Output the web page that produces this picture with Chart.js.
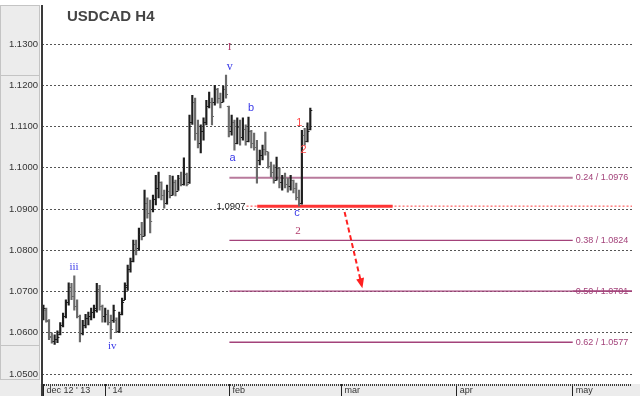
<!DOCTYPE html>
<html>
<head>
<meta charset="utf-8">
<script src="https://cdn.jsdelivr.net/npm/chart.js@4.4.1/dist/chart.umd.min.js"></script>
<style>
  html, body { margin: 0; padding: 0; background: #fff; }
</style>
</head>
<body>
<canvas id="chart" width="640" height="396"></canvas>
<script>
// USDCAD H4 bars, one entry per bar
const opens  = [1.0640,1.0655,1.0628,1.0592,1.0580,1.0585,1.0598,1.0620,1.0640,1.0675,1.0710,1.0690,1.0665,1.0640,1.0600,1.0620,1.0635,1.0640,1.0650,1.0655,1.0705,1.0665,1.0640,1.0645,1.0625,1.0630,1.0630,1.0605,1.0645,1.0680,1.0710,1.0755,1.0775,1.0815,1.0805,1.0840,1.0835,1.0915,1.0890,1.0900,1.0925,1.0950,1.0965,1.0935,1.0915,1.0945,1.0935,1.0965,1.0945,1.0975,1.0960,1.0985,1.0965,1.1110,1.1160,1.1085,1.1060,1.1090,1.1110,1.1150,1.1160,1.1160,1.1190,1.1170,1.1160,1.1190,1.1150,1.1090,1.1110,1.1060,1.1100,1.1075,1.1095,1.1065,1.1090,1.1060,1.1050,1.1020,1.1030,1.1045,1.1040,1.1005,1.0990,1.0970,1.1000,1.0965,1.0975,1.0960,1.0955,1.0970,1.0950,1.0930,1.0915,1.1080,1.1065,1.1095];
const highs  = [1.0667,1.0660,1.0632,1.0600,1.0595,1.0605,1.0625,1.0648,1.0680,1.0721,1.0720,1.0738,1.0680,1.0643,1.0630,1.0645,1.0650,1.0660,1.0667,1.0720,1.0715,1.0667,1.0660,1.0655,1.0643,1.0667,1.0636,1.0650,1.0684,1.0721,1.0764,1.0781,1.0825,1.0825,1.0854,1.0868,1.0946,1.0927,1.0922,1.0934,1.0982,1.0990,1.0966,1.0946,1.0958,1.0982,1.0980,1.0970,1.0982,1.0990,1.1024,1.0987,1.1128,1.1176,1.1169,1.1116,1.1104,1.1121,1.1164,1.1184,1.1169,1.1200,1.1193,1.1181,1.1198,1.1225,1.1150,1.1128,1.1116,1.1121,1.1116,1.1121,1.1104,1.1123,1.1091,1.1084,1.1067,1.1043,1.1055,1.1087,1.1038,1.1014,1.1007,1.1026,1.1000,1.0982,1.0987,1.0975,1.0982,1.0970,1.0963,1.0946,1.1091,1.1096,1.1109,1.1145];
const lows   = [1.0631,1.0626,1.0583,1.0575,1.0572,1.0576,1.0595,1.0614,1.0636,1.0667,1.0680,1.0655,1.0636,1.0578,1.0595,1.0612,1.0619,1.0631,1.0636,1.0650,1.0655,1.0626,1.0626,1.0619,1.0585,1.0625,1.0600,1.0600,1.0643,1.0680,1.0703,1.0747,1.0772,1.0789,1.0800,1.0825,1.0835,1.0878,1.0842,1.0893,1.0910,1.0927,1.0922,1.0902,1.0912,1.0927,1.0934,1.0932,1.0945,1.0956,1.0958,1.0956,1.0962,1.1105,1.1067,1.1048,1.1036,1.1067,1.1104,1.1145,1.1104,1.1152,1.1157,1.1145,1.1160,1.1169,1.1075,1.1079,1.1043,1.1058,1.1055,1.1067,1.1055,1.1063,1.1048,1.1043,1.0963,1.1007,1.1019,1.1031,1.0999,1.0978,1.0963,1.0970,1.0951,1.0946,1.0951,1.0941,1.0946,1.0939,1.0922,1.0907,1.0912,1.1055,1.1063,1.1092];
const closes = [1.0660,1.0632,1.0590,1.0580,1.0585,1.0590,1.0620,1.0640,1.0675,1.0710,1.0690,1.0665,1.0640,1.0600,1.0620,1.0635,1.0640,1.0650,1.0660,1.0705,1.0665,1.0640,1.0645,1.0625,1.0610,1.0655,1.0605,1.0645,1.0675,1.0715,1.0755,1.0775,1.0815,1.0800,1.0840,1.0835,1.0915,1.0890,1.0870,1.0925,1.0950,1.0965,1.0935,1.0915,1.0945,1.0935,1.0965,1.0945,1.0975,1.0960,1.0985,1.0962,1.1110,1.1160,1.1085,1.1060,1.1090,1.1110,1.1150,1.1160,1.1125,1.1190,1.1170,1.1160,1.1190,1.1180,1.1090,1.1110,1.1060,1.1100,1.1075,1.1095,1.1065,1.1090,1.1060,1.1050,1.1020,1.1030,1.1045,1.1040,1.1005,1.0990,1.0970,1.1000,1.0965,1.0975,1.0960,1.0955,1.0970,1.0950,1.0930,1.0915,1.1080,1.1065,1.1090,1.1140];

// axis ticks (x in bar units)
const monthTicks  = [0, 22, 66.2, 106.1, 147.1, 188.4];
const monthLabels = ["dec 12 ' 13", "' 14", "feb", "mar", "apr", "may"];
const priceTicks  = [1.05, 1.06, 1.07, 1.08, 1.09, 1.10, 1.11, 1.12, 1.13];

// fibonacci retracement levels
const fibLevels = [1.0976, 1.0824, 1.0701, 1.0577];
const fibLabels = ['0.24 / 1.0976', '0.38 / 1.0824', '0.50 / 1.0701', '0.62 / 1.0577'];
const fibStart  = 66.2;
const fibEnds   = [188.4, 188.4, 209.5, 188.4];

// support at the wave c low
const supportLevel = 1.0907;
const supportSolid = [76.1, 124.3];
const supportDots  = [72.3, 209.5];

// projected move arrow
const arrowX = [107.2, 113.3];
const arrowY = [1.0893, 1.0715];

// wave counts: [text, x, price, colour, font]
const waveLabels = [
  ['I',   66.3, 1.1293, '#b03a6a', '11px "Liberation Serif"'],
  ['v',   66.3, 1.1244, '#3a3ae8', '12px "Liberation Serif"'],
  ['b',   73.9, 1.1145, '#3a3ae8', '11px "Liberation Sans"'],
  ['a',   67.3, 1.1024, '#3a3ae8', '11px "Liberation Sans"'],
  ['1',   91.1, 1.1108, '#ff4a4a', '11px "Liberation Sans"'],
  ['2',   92.6, 1.1043, '#ff4a4a', '11px "Liberation Sans"'],
  ['c',   90.3, 1.0891, '#3a3ae8', '11px "Liberation Sans"'],
  ['2',   90.6, 1.0847, '#b03a6a', '11px "Liberation Serif"'],
  ['iii', 10.9, 1.0759, '#3a3ae8', '11px "Liberation Serif"'],
  ['iv',  24.5, 1.0568, '#3a3ae8', '11px "Liberation Serif"']
];

const barData = highs.map((h, i) => ({ x: i, y: [lows[i], h] }));
const barColors = closes.map((c, i) => c < opens[i] ? '#6a6a6a' : '#1e1e1e');

const fibDatasets = fibLevels.map((lvl, k) => ({
  type: 'line',
  data: [{ x: fibStart, y: lvl }, { x: fibEnds[k], y: lvl }],
  borderColor: k === 0 ? '#b87a9c' : '#a3427a',
  borderWidth: k === 0 ? 2 : 1.3,
  pointRadius: 0,
  order: 2
}));

// background panels, title and axis line
const decorPlugin = {
  id: 'decor',
  beforeDraw(chart) {
    const { ctx, chartArea: a } = chart;
    ctx.save();
    ctx.fillStyle = '#ececec';
    ctx.fillRect(0, 5, 40, 391);
    ctx.fillRect(40, a.bottom, 600, 396 - a.bottom);
    ctx.strokeStyle = '#c4c4c4';
    ctx.lineWidth = 1;
    ctx.strokeRect(0.5, 5.5, 39, 70);
    ctx.strokeRect(0.5, 75.5, 39, 270);
    ctx.strokeRect(0.5, 345.5, 39, 34);
    ctx.restore();
  },
  afterDraw(chart) {
    const { ctx, chartArea: a } = chart;
    ctx.save();
    ctx.strokeStyle = '#3a3a3a';
    ctx.lineWidth = 2;
    ctx.beginPath();
    ctx.moveTo(a.left, 5);
    ctx.lineTo(a.left, 396);
    ctx.stroke();
    ctx.setLineDash([1, 1]);
    ctx.lineWidth = 2;
    ctx.beginPath();
    ctx.moveTo(a.left, a.bottom + 1);
    ctx.lineTo(a.right, a.bottom + 1);
    ctx.stroke();
    ctx.setLineDash([]);
    ctx.fillStyle = '#444';
    ctx.font = 'bold 15px "Liberation Sans"';
    ctx.textBaseline = 'alphabetic';
    ctx.fillText('USDCAD H4', 67, 21);
    ctx.restore();
  }
};

// open / close ticks, labels, arrow head
const marksPlugin = {
  id: 'marks',
  afterDatasetsDraw(chart) {
    const { ctx } = chart;
    const xs = chart.scales.x, ys = chart.scales.y;
    ctx.save();
    ctx.lineWidth = 1;
    opens.forEach((o, i) => {
      const px = xs.getPixelForValue(i);
      const yo = Math.round(ys.getPixelForValue(o)) + 0.5;
      const yc = Math.round(ys.getPixelForValue(closes[i])) + 0.5;
      ctx.strokeStyle = barColors[i];
      ctx.beginPath();
      ctx.moveTo(px - 2, yo); ctx.lineTo(px, yo);
      ctx.moveTo(px, yc); ctx.lineTo(px + 2, yc);
      ctx.stroke();
    });

    // fib labels
    ctx.font = '9px "Liberation Sans"';
    ctx.textBaseline = 'middle';
    ctx.fillStyle = '#a3427a';
    fibLevels.forEach((lvl, k) => {
      ctx.fillText(fibLabels[k], xs.getPixelForValue(188.4) + 3, ys.getPixelForValue(lvl));
    });
    // the 0.50 line runs through its label
    ctx.strokeStyle = '#a3427a';
    ctx.lineWidth = 1.3;
    ctx.beginPath();
    ctx.moveTo(xs.getPixelForValue(188.4), ys.getPixelForValue(fibLevels[2]));
    ctx.lineTo(xs.getPixelForValue(209.5), ys.getPixelForValue(fibLevels[2]));
    ctx.stroke();

    // support label
    ctx.fillStyle = '#222';
    ctx.font = '9.5px "Liberation Sans"';
    ctx.textAlign = 'right';
    ctx.fillText(supportLevel.toFixed(4), xs.getPixelForValue(supportDots[0]) - 1, ys.getPixelForValue(supportLevel));

    // wave labels
    ctx.textAlign = 'center';
    waveLabels.forEach(([t, x, y, col, font]) => {
      ctx.fillStyle = col;
      ctx.font = font;
      ctx.fillText(t, xs.getPixelForValue(x), ys.getPixelForValue(y));
    });

    // arrow head
    const x0 = xs.getPixelForValue(arrowX[0]), y0 = ys.getPixelForValue(arrowY[0]);
    const x1 = xs.getPixelForValue(arrowX[1]), y1 = ys.getPixelForValue(arrowY[1]);
    const ang = Math.atan2(y1 - y0, x1 - x0);
    ctx.fillStyle = '#ff2020';
    ctx.beginPath();
    ctx.moveTo(x1 + 3 * Math.cos(ang), y1 + 3 * Math.sin(ang));
    ctx.lineTo(x1 - 7 * Math.cos(ang) + 4 * Math.sin(ang), y1 - 7 * Math.sin(ang) - 4 * Math.cos(ang));
    ctx.lineTo(x1 - 7 * Math.cos(ang) - 4 * Math.sin(ang), y1 - 7 * Math.sin(ang) + 4 * Math.cos(ang));
    ctx.closePath();
    ctx.fill();
    ctx.restore();
  }
};

new Chart(document.getElementById('chart'), {
  type: 'bar',
  data: {
    datasets: [
      {
        type: 'bar',
        data: barData,
        backgroundColor: barColors,
        barThickness: 1.5,
        grouped: false,
        order: 0
      },
      ...fibDatasets,
      {
        type: 'line',
        data: [{ x: supportDots[0], y: supportLevel }, { x: supportDots[1], y: supportLevel }],
        borderColor: '#ff8080',
        borderWidth: 1.5,
        borderDash: [2, 2],
        pointRadius: 0,
        order: 3
      },
      {
        type: 'line',
        data: [{ x: supportSolid[0], y: supportLevel }, { x: supportSolid[1], y: supportLevel }],
        borderColor: '#ff3535',
        borderWidth: 3,
        pointRadius: 0,
        order: 1
      },
      {
        type: 'line',
        data: [{ x: arrowX[0], y: arrowY[0] }, { x: arrowX[1], y: arrowY[1] }],
        borderColor: '#ff2020',
        borderWidth: 2,
        borderDash: [5, 3],
        pointRadius: 0,
        order: 1
      }
    ]
  },
  options: {
    responsive: false,
    devicePixelRatio: 1,
    animation: false,
    layout: { padding: { top: 0, right: 8, bottom: 0, left: 0 } },
    plugins: { legend: { display: false }, tooltip: { enabled: false } },
    scales: {
      x: {
        type: 'linear',
        min: -0.5,
        max: 209.5,
        offset: false,
        afterFit(scale) { scale.height = 12; },
        afterBuildTicks(scale) { scale.ticks = monthTicks.map(v => ({ value: v })); },
        grid: { offset: false, drawOnChartArea: false, drawTicks: true, tickLength: 12, tickColor: '#222', tickWidth: 1 },
        border: { display: false },
        ticks: {
          align: 'start',
          labelOffset: 3,
          padding: -11,
          maxRotation: 0,
          autoSkip: false,
          color: '#333',
          font: { family: 'Liberation Sans', size: 9 },
          callback: (v) => monthLabels[monthTicks.indexOf(v)]
        }
      },
      y: {
        min: 1.047576,
        max: 1.13835,
        afterFit(scale) { scale.width = 42; },
        afterBuildTicks(scale) { scale.ticks = priceTicks.map(v => ({ value: v })); },
        grid: { color: '#555', lineWidth: 1, drawTicks: false },
        border: { display: false, dash: [2, 2] },
        ticks: {
          padding: 4,
          color: '#333',
          font: { family: 'Liberation Sans', size: 9.5 },
          callback: (v) => v.toFixed(4)
        }
      }
    }
  },
  plugins: [decorPlugin, marksPlugin]
});
</script>
</body>
</html>
